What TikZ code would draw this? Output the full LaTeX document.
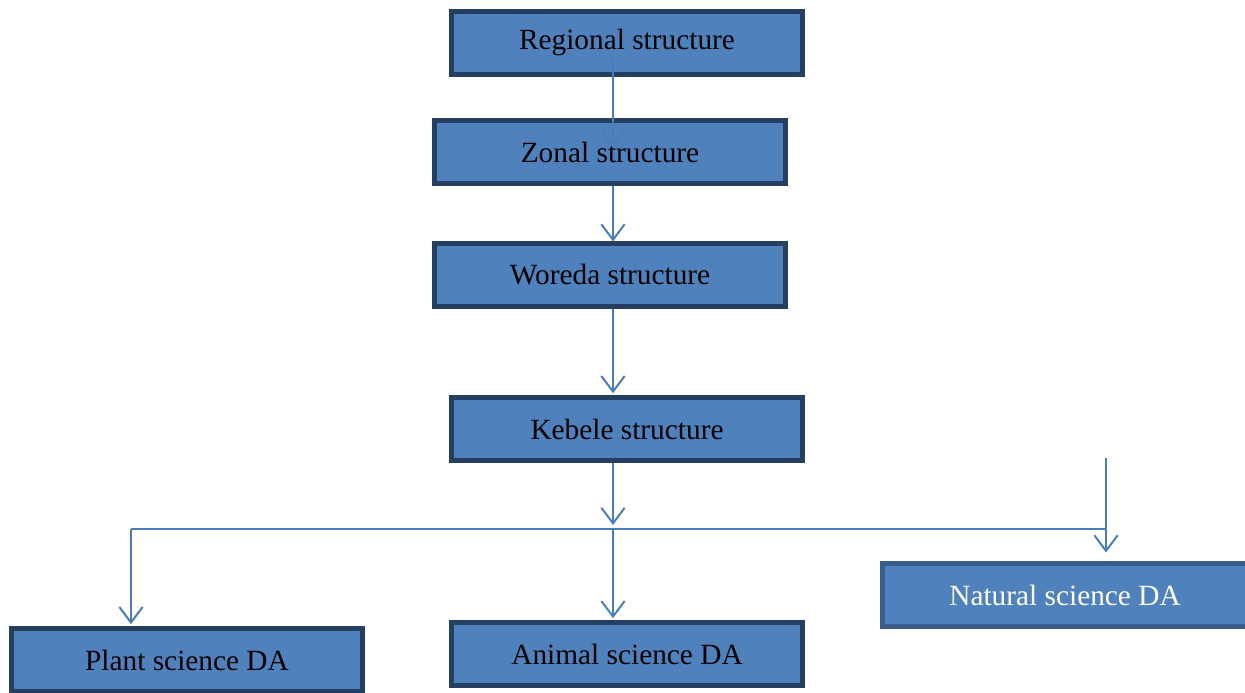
\documentclass[tikz,border=0pt]{standalone}
\usepackage{fontspec}
\setmainfont{Liberation Serif}
\usetikzlibrary{arrows.meta, positioning, calc}

\definecolor{boxfill}{HTML}{4F81BD}
\definecolor{boxline}{HTML}{243F60}
\definecolor{boxlinelight}{HTML}{385D8A}
\definecolor{arrline}{HTML}{4A7EBB}

\begin{document}
\begin{tikzpicture}[x=0.45pt, y=0.45pt]
    \tikzstyle{level} = [draw=boxline, line width=2.2pt, fill=boxfill, rectangle, minimum width=158pt, minimum height=28pt, inner sep=0pt, font=\fontsize{13.2}{15}\selectfont, text=black]
    \tikzstyle{levellight} = [level, draw=boxlinelight, text=white, minimum width=164pt]
    \tikzstyle{arr} = [draw=arrline, line width=0.9pt, -{Straight Barb[length=7pt, width=10.5pt]}]
    \tikzstyle{bar} = [draw=arrline, line width=0.9pt]

    \useasboundingbox (0,0) rectangle (1245,693);

    % hierarchy
    \node[level] (regional) at (627, 650) {Regional structure};
    \node[level] (zonal) at (610, 541) {Zonal structure};
    \node[level] (woreda) at (610, 418) {Woreda structure};
    \node[level] (kebele) at (627, 264) {Kebele structure};

    % development agents
    \node[level] (plant) at (187, 33) {Plant science DA};
    \node[level] (animal) at (627, 39) {Animal science DA};
    \node[levellight] (natural) at (1065, 98) {Natural science DA};

    \coordinate (spine) at (613, 0);
    \coordinate (branch) at (613, 164);
    \coordinate (natstart) at (1106, 235);

    \draw[arr] ($(regional.center -| spine)+(0,-14)$) -- ($(zonal.center -| spine)+(0,4)$);
    \draw[arr] (zonal.south -| spine) -- (woreda.north -| spine);
    \draw[arr, shorten >=1pt] (woreda.south -| spine) -- (kebele.north -| spine);
    \draw[arr] (kebele.south -| spine) -- ($(branch)+(0,4)$);

    \draw[bar] (131, 164) -- (1106, 164);
    \draw[arr, shorten >=1pt] (branch -| 131,0) -- (plant.north -| 131,0);
    \draw[arr, shorten >=1pt] (branch) -- (animal.north -| spine);
    \draw[arr, shorten >=4pt] (natstart) -- (natural.north -| natstart);
\end{tikzpicture}
\end{document}
